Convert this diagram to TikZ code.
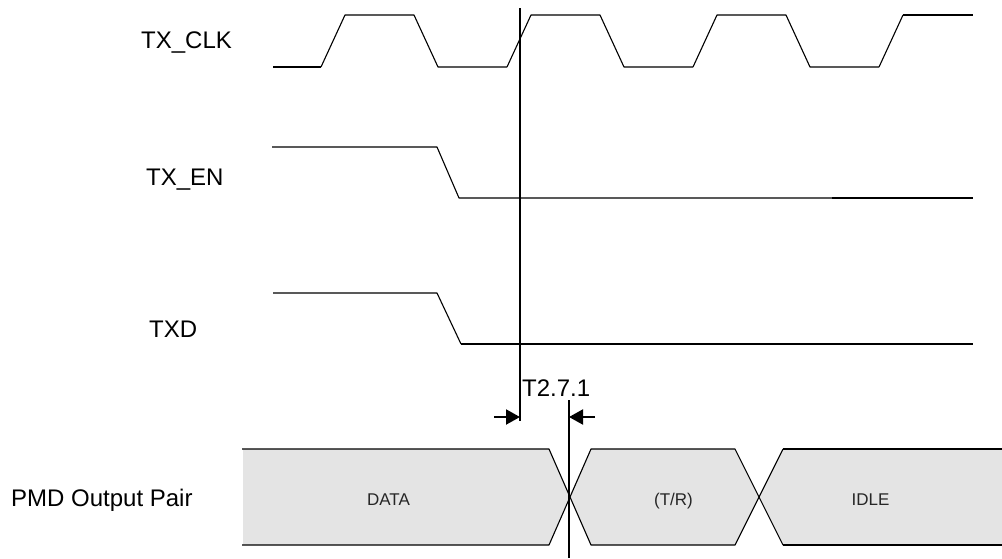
\documentclass[tikz,border=0pt]{standalone}
\usepackage{fontspec}
\setmainfont{Liberation Sans}
\usepackage{xcolor}
\usepackage{tikz}
\usetikzlibrary{arrows.meta}
\definecolor{pairgray}{HTML}{E4E4E4}
\tikzset{
  wave/.style={black, line width=1.1pt, line join=round},
  wavebold/.style={black, line width=2pt, line join=round},
  marker/.style={black, line width=2pt},
  skew/.style={black, -{Triangle[length=14pt,width=15pt]}, line width=2pt},
  siglabel/.style={anchor=base west, inner sep=0pt, font=\fontsize{24}{28}\selectfont},
  pairlabel/.style={anchor=base, inner sep=0pt, font=\fontsize{17}{20}\selectfont, text=black!85}
}
\begin{document}
\begin{tikzpicture}[x=1pt, y=-1pt]
            \useasboundingbox (0,0) rectangle (1002,558);
            \fill [pairgray] (243,449) -- (549,449) -- (569.5,496) -- (549,545) -- (243,545) -- cycle;
            \fill [pairgray] (591,449) -- (735,449) -- (759,496) -- (735,545) -- (591,545) -- (569.5,496) -- cycle;
            \fill [pairgray] (783,449) -- (1002,449) -- (1002,545) -- (783,545) -- (759,496) -- cycle;
            \draw [wave] (273,67) -- (321,67);
            \foreach \x in {0, 186, 372}
            \draw [wave] (\x+321,67) -- (\x+345,15) -- (\x+414,15) -- (\x+438,67) -- (\x+507,67);
            \draw [wave] (879,67) -- (903,15);
            \draw [wavebold] (903,15) -- (973,15);
            \draw [wave] (272,147) -- (437,147) -- (459,198) -- (832,198);
            \draw [wavebold] (832,198) -- (973,198);
            \draw [wave] (273,293) -- (437,293) -- (461,344);
            \draw [wavebold] (461,344) -- (973,344);
            \draw [wave] (242,449) -- (549,449) -- (591,545) -- (735,545) -- (783,449);
            \draw [wave] (242,545) -- (549,545) -- (591,449) -- (735,449) -- (783,545);
            \draw [wavebold] (783,449) -- (1002,449);
            \draw [wavebold] (783,545) -- (1002,545);
            \coordinate (enabletop) at (520,8);
            \coordinate (enableend) at (520,421);
            \coordinate (pairtop) at (569,400);
            \coordinate (pairend) at (569,558);
            \coordinate (skewleft) at (494,417);
            \coordinate (skewright) at (595,417);
            \draw [marker] (enabletop) -- (enableend);
            \draw [marker] (pairtop) -- (pairend);
            \draw [skew] (skewleft) -- (enableend |- skewleft);
            \draw [skew] (skewright) -- (pairend |- skewright);
            \node [siglabel] (clklabel) at (141,48) {TX\_CLK};
            \node [siglabel] (enlabel) at (146,185) {TX\_EN};
            \node [siglabel] (txdlabel) at (149,337) {TXD};
            \node [siglabel] (pmdlabel) at (11,506) {PMD Output Pair};
            \node [siglabel] (skewlabel) at (522,396) {T2.7.1};
            \node [pairlabel] (datalabel) at (388.5,505) {DATA};
            \node [pairlabel] (trlabel) at (673.5,505) {(T/R)};
            \node [pairlabel] (idlelabel) at (870.5,505) {IDLE};
        \end{tikzpicture}
\end{document}
